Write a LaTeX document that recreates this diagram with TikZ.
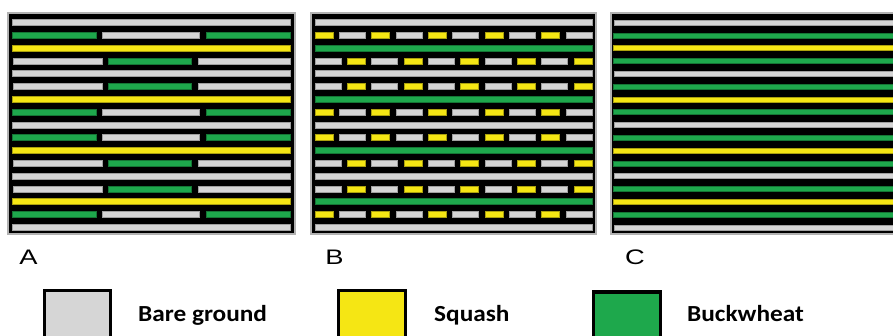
\documentclass[tikz,border=0pt]{standalone}
\usepackage{fontspec}
\newfontfamily\panelfont[FakeStretch=1.3]{Liberation Sans}
\newfontfamily\keyfont[FakeStretch=1.1]{Carlito}
\definecolor{bare}{RGB}{214,214,214}
\definecolor{squash}{RGB}{245,230,20}
\definecolor{buck}{RGB}{30,168,76}
\newcommand{\strip}[5]{\path[#1] (#2,#4-#5) rectangle (#3,#4+#5);}
\tikzset{
            plot/.style={fill=black, draw=gray!60, line width=1.2pt},
            barestrip/.style={fill=bare, draw=bare!75!black, line width=0.5pt},
            squashstrip/.style={fill=squash, draw=squash!70!black, line width=0.5pt},
            buckstrip/.style={fill=buck, draw=buck!70!black, line width=0.5pt},
            keybox/.style={draw=black, line width=3.5pt},
            panellabel/.style={inner sep=0pt, font=\panelfont\fontsize{21}{21}\selectfont},
            keylabel/.style={inner sep=0pt, anchor=base west, font=\keyfont\bfseries\fontsize{23}{23}\selectfont}
        }

\begin{document}
\begin{tikzpicture}[x=1pt, y=-1pt]
    \useasboundingbox (0,0) rectangle (893,335);
    \clip (0,0) rectangle (893,335);
    % A
    \draw[plot] (8,13) rectangle (295,234);
    \foreach \r [evaluate=\r as \y using 22.5+12.8*(\r-1)] in {1,5,9,13,17} {
        \strip{barestrip}{12}{290}{\y}{3}
    }
    \foreach \r [evaluate=\r as \y using 22.5+12.8*(\r-1)] in {3,7,11,15} {
        \strip{squashstrip}{12}{290}{\y}{3}
    }
    \foreach \r [evaluate=\r as \y using 22.5+12.8*(\r-1)] in {2,8,10,16} {
        \strip{buckstrip}{12}{96}{\y}{3}
        \strip{barestrip}{102}{199}{\y}{3}
        \strip{buckstrip}{206}{290}{\y}{3}
    }
    \foreach \r [evaluate=\r as \y using 22.5+12.8*(\r-1)] in {4,6,12,14} {
        \strip{barestrip}{13}{102}{\y}{3}
        \strip{buckstrip}{108}{191}{\y}{3}
        \strip{barestrip}{198}{290}{\y}{3}
    }
    % B
    \draw[plot] (311,13) rectangle (596,234);
    \foreach \r [evaluate=\r as \y using 22.5+12.8*(\r-1)] in {1,5,9,13,17} {
        \strip{barestrip}{315}{592}{\y}{3}
    }
    \foreach \r [evaluate=\r as \y using 22.5+12.8*(\r-1)] in {3,7,11,15} {
        \strip{buckstrip}{315}{592}{\y}{3}
    }
    \foreach \r [evaluate=\r as \y using 22.5+12.8*(\r-1)] in {2,8,10,16} {
        \foreach \k [evaluate=\k as \s using 315+56.67*\k] in {0,...,4} {
            \strip{squashstrip}{\s}{\s+18}{\y}{3}
            \strip{barestrip}{\s+24.3}{\s+50.3}{\y}{3}
        }
    }
    \foreach \r [evaluate=\r as \y using 22.5+12.8*(\r-1)] in {4,6,12,14} {
        \foreach \k [evaluate=\k as \s using 315+56.67*\k] in {0,...,4} {
            \strip{barestrip}{\s}{\s+26}{\y}{3}
            \strip{squashstrip}{\s+32.3}{\s+50.3}{\y}{3}
        }
    }
    % C
    \draw[plot] (611,13) rectangle (900,234);
    \foreach \r [evaluate=\r as \y using 22.5+12.8*(\r-1)] in {1,5,9,13,17} {
        \strip{barestrip}{614}{900}{\y}{2.5}
    }
    \foreach \r [evaluate=\r as \y using 22.5+12.8*(\r-1)] in {3,7,11,15} {
        \strip{squashstrip}{613}{900}{\y}{2.5}
    }
    \foreach \r [evaluate=\r as \y using 22.5+12.8*(\r-1)] in {2,4,...,16} {
        \strip{buckstrip}{613}{900}{\y}{2.5}
    }

    \node[panellabel] (lblA) at (28.5,257.5) {A};
    \node[panellabel] (lblB) at (334.5,257.5) {B};
    \node[panellabel] (lblC) at (635,257.5) {C};

    \draw[keybox, fill=bare] (44.7,290.7) rectangle (110.3,350);
    \node[keylabel] (keyBare) at (138,321.7) {Bare ground};
    \draw[keybox, fill=squash] (338.7,290.7) rectangle (405.3,350);
    \node[keylabel] (keySquash) at (434,321.7) {Squash};
    \draw[keybox, fill=buck] (593.7,292) rectangle (660.3,350);
    \node[keylabel] (keyBuck) at (687,321.7) {Buckwheat};
\end{tikzpicture}
\end{document}
